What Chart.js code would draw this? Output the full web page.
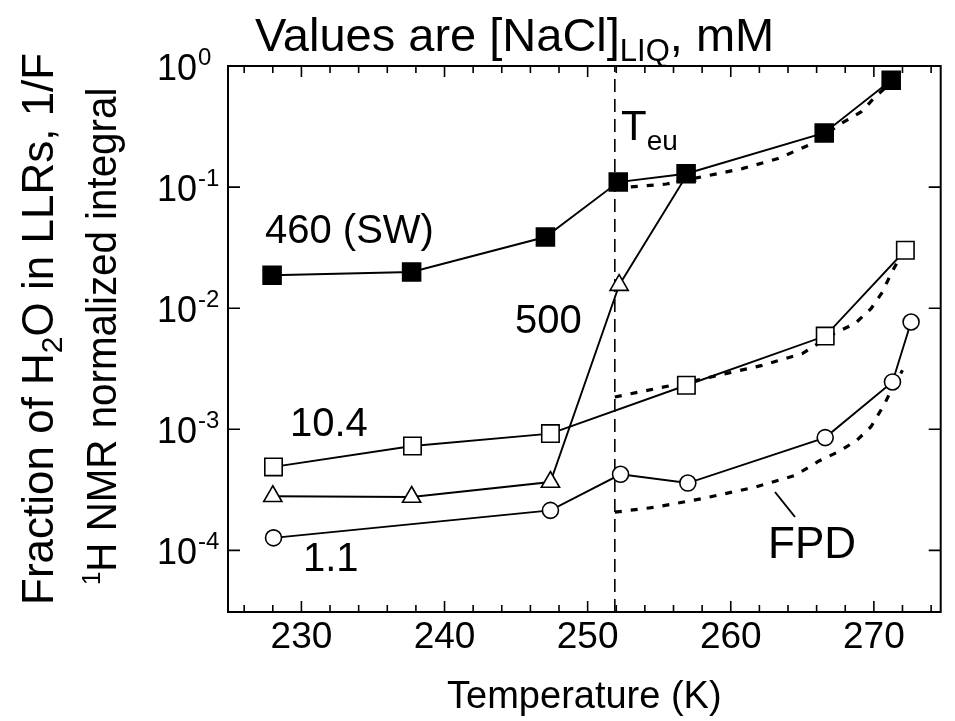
<!DOCTYPE html>
<html>
<head>
<meta charset="utf-8">
<script src="https://cdn.jsdelivr.net/npm/chart.js@4.4.0/dist/chart.umd.min.js"></script>
<style>
  html, body { margin: 0; padding: 0; background: #fff; }
  canvas { display: block; }
</style>
</head>
<body>
<canvas id="fig" width="955" height="721"></canvas>
<script>
// temperature (K) and 1/F, one pair of arrays per sample
var swT = [227.95, 237.7, 247.05, 252.14, 256.88, 266.53, 271.21];
var swF = [0.0187, 0.0199, 0.0387, 0.110, 0.129, 0.280, 0.762];

var m500T = [228.0, 237.7, 247.4, 252.2, 256.9];
var m500F = [2.8e-4, 2.76e-4, 3.67e-4, 0.0155, 0.124];

var m10T = [228.05, 237.76, 247.4, 256.9, 266.6, 272.2];
var m10F = [4.89e-4, 7.28e-4, 9.22e-4, 2.31e-3, 5.89e-3, 0.0301];

var m1T = [228.05, 247.4, 252.3, 257.0, 266.6, 271.3, 272.6];
var m1F = [1.27e-4, 2.14e-4, 4.25e-4, 3.6e-4, 8.54e-4, 2.46e-3, 7.69e-3];

// freezing point depression curves (dotted)
var fpdSwT = [251.9, 252.9, 255.5, 258.5, 260.8, 263.3, 265.7, 267.7, 269.1, 270.2, 271.0];
var fpdSwF = [0.098, 0.100, 0.106, 0.125, 0.142, 0.172, 0.229, 0.334, 0.417, 0.573, 0.69];

var fpd10T = [251.9, 254.8, 257.6, 262.2, 265.0, 267.2, 268.7, 269.8, 270.6, 271.2, 271.9];
var fpd10F = [1.85e-3, 2.17e-3, 2.54e-3, 3.37e-3, 4.22e-3, 6.17e-3, 7.5e-3, 9.9e-3, 0.0136, 0.0193, 0.0273];

var fpd1T = [251.9, 254.8, 258.0, 261.7, 264.5, 266.2, 267.6, 268.8, 269.8, 270.7, 271.3, 272.0];
var fpd1F = [2.07e-4, 2.28e-4, 2.68e-4, 3.33e-4, 4.17e-4, 5.5e-4, 6.6e-4, 8.1e-4, 1.05e-3, 1.58e-3, 2.2e-3, 3.07e-3];

var tEu = 251.9;

var xMin = 224.87, xMax = 274.67;
var yMin = 3.1e-5, yMax = 1;
var xTicks = [230, 240, 250, 260, 270];
var xMinorTicks = [226, 228, 230, 232, 234, 236, 238, 240, 242, 244, 246, 248, 250, 252, 254, 256, 258, 260, 262, 264, 266, 268, 270, 272, 274];
var yTicks = [1e-4, 1e-3, 1e-2, 1e-1, 1];
var yExps = ['-4', '-3', '-2', '-1', '0'];

var FONT = '"Liberation Sans", Arial, sans-serif';

function pts(xs, ys) {
  return xs.map(function (x, i) { return { x: x, y: ys[i] }; });
}

function series(data, style, radius, fill) {
  return {
    data: data, showLine: true, borderColor: '#000', borderWidth: 1.9,
    pointStyle: style, pointRadius: radius, pointBorderWidth: 1.6,
    pointBorderColor: '#000', pointBackgroundColor: fill
  };
}

function dotted(data) {
  return { data: data, showLine: true, borderColor: '#000', borderWidth: 3.2,
           borderDash: [7, 9], pointRadius: 0 };
}

function runs(ctx, list, x, y) {
  list.forEach(function (r) {
    ctx.font = r.size + 'px ' + FONT;
    ctx.fillText(r.t, x, y + (r.dy || 0));
    x += ctx.measureText(r.t).width;
  });
}

var decor = {
  id: 'decor',
  afterDraw: function (chart) {
    var ctx = chart.ctx, a = chart.chartArea;
    var xs = chart.scales.x, ys = chart.scales.y;
    ctx.save();
    ctx.strokeStyle = '#000';
    ctx.fillStyle = '#000';

    // frame
    ctx.lineWidth = 2;
    ctx.strokeRect(a.left, a.top, a.right - a.left, a.bottom - a.top);

    // inward ticks
    ctx.lineWidth = 1.6;
    ctx.beginPath();
    xMinorTicks.forEach(function (v) {
      var p = xs.getPixelForValue(v);
      var len = v % 10 === 0 ? 11 : 7;
      ctx.moveTo(p, a.bottom); ctx.lineTo(p, a.bottom - len);
      ctx.moveTo(p, a.top); ctx.lineTo(p, a.top + len);
    });
    yTicks.forEach(function (v) {
      var p = ys.getPixelForValue(v);
      ctx.moveTo(a.left, p); ctx.lineTo(a.left + 12, p);
      ctx.moveTo(a.right, p); ctx.lineTo(a.right - 12, p);
    });
    ctx.stroke();

    // y tick labels 10^n
    ctx.textBaseline = 'alphabetic';
    yTicks.forEach(function (v, i) {
      var p = ys.getPixelForValue(v);
      ctx.textAlign = 'right';
      ctx.font = '36px ' + FONT;
      ctx.fillText('10', 197, p + 14);
      ctx.textAlign = 'left';
      ctx.font = '24px ' + FONT;
      ctx.fillText(yExps[i], 198, p - 1);
    });

    // title
    ctx.textAlign = 'left';
    runs(ctx, [
      { t: 'Values are [NaCl]', size: 47 },
      { t: 'LIQ', size: 31, dy: 10 },
      { t: ', mM', size: 47 }
    ], 255, 51);

    // labels in the plot
    runs(ctx, [{ t: '460 (SW)', size: 40 }], 265, 243);
    runs(ctx, [{ t: '500', size: 40 }], 515, 333);
    runs(ctx, [{ t: '10.4', size: 40 }], 290, 436);
    runs(ctx, [{ t: '1.1', size: 40 }], 303, 571);
    runs(ctx, [{ t: 'FPD', size: 44 }], 768, 558);
    runs(ctx, [{ t: 'T', size: 42 }, { t: 'eu', size: 28, dy: 10 }], 621, 140);

    ctx.lineWidth = 2;
    ctx.beginPath();
    ctx.moveTo(775, 492); ctx.lineTo(795, 517);
    ctx.stroke();

    // rotated y titles
    ctx.save();
    ctx.translate(53, 605);
    ctx.rotate(-Math.PI / 2);
    runs(ctx, [
      { t: 'Fraction of H', size: 44 },
      { t: '2', size: 30, dy: 9 },
      { t: 'O in LLRs, 1/F', size: 44 }
    ], 0, 0);
    ctx.restore();

    ctx.save();
    ctx.translate(116, 585);
    ctx.rotate(-Math.PI / 2);
    ctx.scale(0.96, 1);
    runs(ctx, [
      { t: '1', size: 25, dy: -16 },
      { t: 'H NMR normalized integral', size: 42 }
    ], 0, 0);
    ctx.restore();

    ctx.restore();
  }
};

new Chart(document.getElementById('fig'), {
  type: 'scatter',
  data: {
    datasets: [
      series(pts(swT, swF), 'rect', 12.7, '#000'),
      series(pts(m500T, m500F), 'triangle', 10.5, '#fff'),
      series(pts(m10T, m10F), 'rect', 12.3, '#fff'),
      series(pts(m1T, m1F), 'circle', 8, '#fff'),
      dotted(pts(fpdSwT, fpdSwF)),
      dotted(pts(fpd10T, fpd10F)),
      dotted(pts(fpd1T, fpd1F)),
      { data: [{ x: tEu, y: yMin }, { x: tEu, y: yMax }], showLine: true,
        borderColor: '#000', borderWidth: 1.6, borderDash: [13, 7], pointRadius: 0 }
    ]
  },
  plugins: [decor],
  options: {
    responsive: false,
    animation: false,
    events: [],
    layout: { padding: { left: 0, right: 8, top: 66, bottom: 0 } },
    plugins: { legend: { display: false }, tooltip: { enabled: false } },
    scales: {
      x: {
        type: 'linear', min: xMin, max: xMax,
        afterBuildTicks: function (s) { s.ticks = xTicks.map(function (v) { return { value: v }; }); },
        afterFit: function (s) { s.height = 109; },
        grid: { display: false, drawTicks: false },
        border: { display: false },
        ticks: { color: '#000', font: { family: FONT, size: 37 }, padding: 4, maxRotation: 0, autoSkip: false },
        title: { display: true, text: 'Temperature (K)', color: '#000',
                 font: { family: FONT, size: 38 }, padding: { top: 4, bottom: 1 } }
      },
      y: {
        type: 'logarithmic', min: yMin, max: yMax,
        afterBuildTicks: function (s) { s.ticks = yTicks.map(function (v) { return { value: v }; }); },
        afterFit: function (s) { s.width = 228; },
        grid: { display: false, drawTicks: false },
        border: { display: false },
        ticks: { display: false }
      }
    }
  }
});
</script>
</body>
</html>
